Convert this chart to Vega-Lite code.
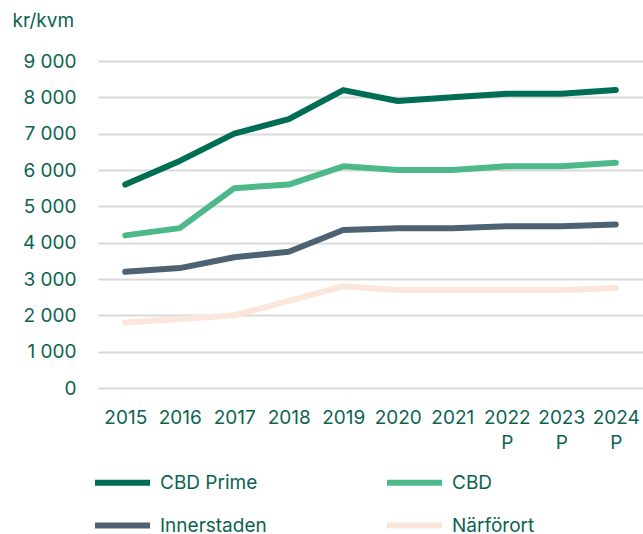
{
  "$schema": "https://vega.github.io/schema/vega-lite/v6.json",
  "autosize": {"type": "none"},
  "padding": {"left": 98, "top": 61, "right": 0, "bottom": 146},
  "width": 545,
  "height": 327,
  "background": "white",
  "config": {
    "font": "Inter",
    "view": {"stroke": null}
  },
  "data": {
    "values": [
      {"year": "2015", "serie": "CBD Prime", "v": 5600},
      {"year": "2016", "serie": "CBD Prime", "v": 6250},
      {"year": "2017", "serie": "CBD Prime", "v": 7000},
      {"year": "2018", "serie": "CBD Prime", "v": 7400},
      {"year": "2019", "serie": "CBD Prime", "v": 8200},
      {"year": "2020", "serie": "CBD Prime", "v": 7900},
      {"year": "2021", "serie": "CBD Prime", "v": 8000},
      {"year": "2022 P", "serie": "CBD Prime", "v": 8100},
      {"year": "2023 P", "serie": "CBD Prime", "v": 8100},
      {"year": "2024 P", "serie": "CBD Prime", "v": 8200},
      {"year": "2015", "serie": "CBD", "v": 4200},
      {"year": "2016", "serie": "CBD", "v": 4400},
      {"year": "2017", "serie": "CBD", "v": 5500},
      {"year": "2018", "serie": "CBD", "v": 5600},
      {"year": "2019", "serie": "CBD", "v": 6100},
      {"year": "2020", "serie": "CBD", "v": 6000},
      {"year": "2021", "serie": "CBD", "v": 6000},
      {"year": "2022 P", "serie": "CBD", "v": 6100},
      {"year": "2023 P", "serie": "CBD", "v": 6100},
      {"year": "2024 P", "serie": "CBD", "v": 6200},
      {"year": "2015", "serie": "Innerstaden", "v": 3200},
      {"year": "2016", "serie": "Innerstaden", "v": 3300},
      {"year": "2017", "serie": "Innerstaden", "v": 3600},
      {"year": "2018", "serie": "Innerstaden", "v": 3750},
      {"year": "2019", "serie": "Innerstaden", "v": 4350},
      {"year": "2020", "serie": "Innerstaden", "v": 4400},
      {"year": "2021", "serie": "Innerstaden", "v": 4400},
      {"year": "2022 P", "serie": "Innerstaden", "v": 4450},
      {"year": "2023 P", "serie": "Innerstaden", "v": 4450},
      {"year": "2024 P", "serie": "Innerstaden", "v": 4500},
      {"year": "2015", "serie": "Närförort", "v": 1800},
      {"year": "2016", "serie": "Närförort", "v": 1900},
      {"year": "2017", "serie": "Närförort", "v": 2000},
      {"year": "2018", "serie": "Närförort", "v": 2400},
      {"year": "2019", "serie": "Närförort", "v": 2800},
      {"year": "2020", "serie": "Närförort", "v": 2700},
      {"year": "2021", "serie": "Närförort", "v": 2700},
      {"year": "2022 P", "serie": "Närförort", "v": 2700},
      {"year": "2023 P", "serie": "Närförort", "v": 2700},
      {"year": "2024 P", "serie": "Närförort", "v": 2750}
    ]
  },
  "mark": {"type": "line", "strokeWidth": 6, "strokeCap": "round", "strokeJoin": "round"},
  "encoding": {
    "x": {
      "field": "year",
      "type": "ordinal",
      "scale": {"type": "point", "padding": 0.5},
      "axis": {
        "title": null,
        "domain": false,
        "ticks": false,
        "labelAngle": 0,
        "labelPadding": 20,
        "labelFontSize": 19,
        "labelColor": "#0b6350",
        "labelLineHeight": 25,
        "labelExpr": "split(datum.label, ' ')"
      }
    },
    "y": {
      "field": "v",
      "type": "quantitative",
      "scale": {"domain": [0, 9000], "nice": false},
      "axis": {
        "values": [0, 1000, 2000, 3000, 4000, 5000, 6000, 7000, 8000, 9000],
        "title": "kr/kvm",
        "titleAngle": 0,
        "titleX": -86,
        "titleY": -41,
        "titleAlign": "left",
        "titleBaseline": "middle",
        "titleFontSize": 19,
        "titleFontWeight": "normal",
        "titleColor": "#0b6350",
        "domain": false,
        "ticks": false,
        "labelPadding": 22,
        "labelFontSize": 19,
        "labelColor": "#0b6350",
        "labelExpr": "replace(format(datum.value, ','), ',', ' ')",
        "gridColor": "#d9d9d9",
        "gridWidth": 2
      }
    },
    "color": {
      "field": "serie",
      "type": "nominal",
      "sort": ["CBD Prime", "CBD", "Innerstaden", "Närförort"],
      "scale": {
        "domain": ["CBD Prime", "CBD", "Innerstaden", "Närförort"],
        "range": ["#006e55", "#4db88a", "#4d6273", "#fbe6dc"]
      },
      "legend": {
        "title": null,
        "orient": "none",
        "legendX": -6,
        "legendY": 391,
        "direction": "horizontal",
        "columns": 2,
        "columnPadding": 108,
        "rowPadding": -15,
        "symbolType": "stroke",
        "symbolSize": 3025,
        "symbolStrokeWidth": 6,
        "labelFontSize": 19,
        "labelColor": "#0b6350",
        "labelOffset": 7,
        "gridAlign": "all"
      }
    }
  }
}
